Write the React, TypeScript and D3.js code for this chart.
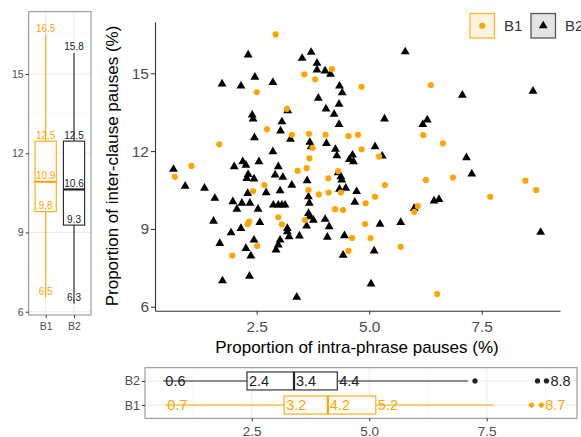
import * as d3 from "d3";
import { useRef, useEffect } from "react";

const groups = ["B1", "B2"];
const groupColors = ["#FFA500", "#000000"];

// scatter: proportion of intra-phrase pauses (x) vs inter-clause pauses (y)
const b1Intra = [2.92, 4.17, 3.56, 3.80, 2.50, 4.83, 6.37, 3.17, 2.73, 3.28, 3.66, 4.03, 4.54, 4.75, 6.20, 1.67, 3.74, 4.83, 6.64, 5.22,
  3.67, 1.05, 3.41, 3.61, 4.31, 0.68, 4.37, 4.92, 5.13, 5.35, 6.26, 6.86, 8.47, 8.71, 7.69, 6.08, 6.00, 4.24, 4.42, 4.91,
  4.62, 5.03, 5.70, 4.54, 6.51, 1.96, 2.30, 2.33, 2.51, 2.42, 2.67, 2.98, 3.06, 3.65, 3.88, 4.09, 4.10, 3.57];
const b1Inter = [16.50, 15.16, 14.96, 14.77, 14.27, 14.48, 14.55, 13.63, 12.84, 12.63, 12.67, 12.63, 12.58, 12.63, 12.62, 12.26, 12.13, 12.07, 12.30, 11.79,
  11.72, 11.43, 11.24, 11.34, 11.23, 11.01, 10.40, 9.99, 10.24, 10.69, 10.89, 10.98, 10.86, 10.50, 10.24, 9.88, 9.66, 9.76, 9.73, 9.19,
  8.65, 8.65, 8.31, 8.15, 6.49, 7.97, 9.18, 9.28, 8.34, 10.46, 10.69, 9.45, 9.18, 10.50, 10.33, 10.95, 10.40, 9.34];

const b2Intra = [2.31, 3.51, 3.71, 3.84, 3.84, 4.02, 4.14, 1.73, 2.15, 2.46, 2.86, 4.34, 4.40, 3.87, 4.33, 4.04, 3.19, 2.40, 2.42, 4.22,
  3.06, 4.33, 3.03, 2.45, 3.25, 3.68, 3.71, 4.05, 2.86, 4.25, 4.28, 0.65, 2.00, 2.19, 2.26, 2.55, 2.98, 4.56, 5.80, 7.07,
  8.64, 5.34, 6.29, 6.19, 5.13, 5.29, 4.63, 4.65, 7.16, 4.37, 4.39, 4.34, 4.48, 4.72, 4.68, 7.28, 6.44, 6.55, 6.00, 5.24,
  5.70, 8.81, 4.45, 5.11, 4.42, 5.04, 0.91, 1.34, 1.57, 1.54, 1.68, 1.74, 1.93, 1.97, 2.06, 2.17, 2.35, 2.30, 2.15, 2.26,
  2.37, 2.34, 2.44, 2.57, 2.53, 2.31, 2.28, 2.44, 2.71, 2.91, 3.08, 2.87, 2.98, 3.06, 3.13, 3.02, 3.18, 3.22, 3.02, 2.98,
  2.93, 3.28, 3.62, 3.65, 3.67, 4.31, 3.65, 3.68, 3.76, 3.61, 4.02, 4.11, 4.07, 3.45, 3.39, 3.18];
const b2Inter = [15.71, 15.58, 15.81, 15.39, 15.13, 15.09, 14.97, 14.59, 14.51, 14.85, 14.65, 14.51, 14.25, 14.04, 13.81, 13.63, 13.56, 13.39, 13.24, 13.42,
  13.13, 13.03, 12.78, 12.52, 12.46, 12.34, 12.17, 12.30, 11.98, 12.07, 11.82, 11.30, 11.40, 11.59, 11.46, 11.59, 11.40, 11.68, 15.83, 14.16,
  14.31, 13.24, 13.20, 13.03, 12.17, 11.81, 11.85, 11.59, 11.75, 11.01, 10.89, 10.53, 10.57, 10.44, 10.03, 11.12, 10.08, 10.14, 9.79, 9.18,
  9.25, 8.87, 8.74, 8.15, 7.99, 6.88, 10.65, 10.57, 10.18, 9.30, 8.44, 7.00, 8.85, 10.05, 9.76, 9.99, 9.99, 10.37, 9.02, 8.25,
  7.96, 7.18, 8.57, 9.25, 9.76, 11.10, 10.95, 10.93, 10.40, 11.08, 10.99, 9.92, 9.92, 9.92, 9.92, 10.47, 9.02, 8.70, 8.57, 8.38,
  8.19, 10.69, 10.86, 10.24, 9.99, 11.17, 9.60, 9.47, 9.34, 9.11, 9.37, 9.09, 8.68, 8.73, 6.37, 8.89];

// left boxplot (inter-clause): min, q1, median, q3, max
const b1InterBox = [6.55, 9.79, 10.92, 12.46, 16.5];
const b2InterBox = [6.3, 9.28, 10.63, 12.46, 15.8];
const b1InterLabels = ["6.5", "9.8", "10.9", "12.5", "16.5"];
const b2InterLabels = ["6.3", "9.3", "10.6", "12.5", "15.8"];

// bottom boxplot (intra-phrase): min, q1, median, q3, upper whisker
const b1IntraBox = [0.66, 3.19, 4.12, 5.14, 7.64];
const b2IntraBox = [0.62, 2.4, 3.4, 4.32, 7.1];
const b1IntraOutliers = [8.45, 8.66];
const b2IntraOutliers = [7.25, 8.58, 8.77];
const b1IntraLabels = ["0.7", "3.2", "4.2", "5.2", "8.7"];
const b2IntraLabels = ["0.6", "2.4", "3.4", "4.4", "8.8"];

const mainXTicks = [2.5, 5.0, 7.5];
const mainYTicks = [6, 9, 12, 15];

const font = "'Liberation Sans', Arial, sans-serif";

export default function App() {
    const ref = useRef<SVGSVGElement>(null);

    const width = 581;
    const height = 437;

    useEffect(() => {
        const svg = d3.select(ref.current);
        svg.selectAll("*").remove();
        svg.attr("font-family", font);

        const tickGray = "#4d4d4d";
        const gridMajor = "#ebebeb";
        const gridMinor = "#f4f4f4";
        const border = "#8a8a8a";

        // ---------- main scatter panel ----------
        const x = d3.scaleLinear().domain([0.24, 9.24]).range([155, 560]);
        const y = d3.scaleLinear().domain([5.846, 16.99]).range([310.7, 21.7]);

        const main = svg.append("g");

        const pts = main.append("g");
        const b2 = b2Intra.map((v, i) => ({ x: v, y: b2Inter[i] }));
        const b1 = b1Intra.map((v, i) => ({ x: v, y: b1Inter[i] }));

        pts.append("g")
            .selectAll("path")
            .data(b2)
            .join("path")
                .attr("d", d3.symbol(d3.symbolTriangle, 34)())
                .attr("transform", d => `translate(${x(d.x)},${y(d.y)})`)
                .attr("fill", groupColors[1]);

        pts.append("g")
            .selectAll("circle")
            .data(b1)
            .join("circle")
                .attr("cx", d => x(d.x))
                .attr("cy", d => y(d.y))
                .attr("r", 3.1)
                .attr("fill", groupColors[0]);

        // axes
        const xAxis = main.append("g")
            .attr("transform", "translate(0,310.7)")
            .call(d3.axisBottom(x).tickValues(mainXTicks).tickFormat(d3.format(".1f")).tickSize(4).tickSizeOuter(0));
        xAxis.select(".domain").attr("stroke", "#333").attr("stroke-width", 1.1);
        xAxis.selectAll(".tick line").attr("stroke", "#333");
        xAxis.selectAll(".tick text").attr("fill", tickGray).attr("font-size", 15.5).attr("dy", "0.95em");

        const yAxis = main.append("g")
            .attr("transform", "translate(155,0)")
            .call(d3.axisLeft(y).tickValues(mainYTicks).tickSize(4).tickSizeOuter(0));
        yAxis.select(".domain").attr("stroke", "#333").attr("stroke-width", 1.1);
        yAxis.selectAll(".tick line").attr("stroke", "#333");
        yAxis.selectAll(".tick text").attr("fill", tickGray).attr("font-size", 15.5).attr("x", -6);

        main.append("text")
            .attr("x", 357)
            .attr("y", 353)
            .attr("text-anchor", "middle")
            .attr("font-size", 17)
            .attr("fill", "#000")
            .text("Proportion of intra-phrase pauses (%)");

        main.append("text")
            .attr("transform", "translate(118,166) rotate(-90)")
            .attr("text-anchor", "middle")
            .attr("font-size", 17)
            .attr("fill", "#000")
            .text("Proportion of inter-clause pauses (%)");

        // legend
        const legend = main.append("g");
        const keyX = [470, 531];
        const keyFill = ["#fff4e0", "#e4e4e4"];
        const keyStroke = ["#FFB733", "#555555"];
        groups.forEach((g, i) => {
            const k = legend.append("g").attr("transform", `translate(${keyX[i]},13.5)`);
            k.append("rect")
                .attr("width", 24.5).attr("height", 24.5)
                .attr("fill", keyFill[i]).attr("stroke", keyStroke[i]).attr("stroke-width", 1.3);
            if (i === 0) {
                k.append("circle").attr("cx", 12.25).attr("cy", 12.25).attr("r", 3.1).attr("fill", groupColors[0]);
            } else {
                k.append("path")
                    .attr("d", d3.symbol(d3.symbolTriangle, 34)())
                    .attr("transform", "translate(12.25,12.25)")
                    .attr("fill", groupColors[1]);
            }
            legend.append("text")
                .attr("x", keyX[i] + 34)
                .attr("y", 31)
                .attr("font-size", 15)
                .attr("fill", "#333")
                .text(g);
        });

        // ---------- left boxplot panel (inter-clause) ----------
        const ly = d3.scaleLinear().domain([5.876, 17.36]).range([315, 11.7]);
        const lx = d3.scalePoint().domain(groups).range([28.7, 91]).padding(0.6);
        const left = svg.append("g");

        [7.5, 10.5, 13.5, 16.5].forEach(v => {
            left.append("line").attr("x1", 28.7).attr("x2", 91).attr("y1", ly(v)).attr("y2", ly(v))
                .attr("stroke", gridMinor).attr("stroke-width", 0.6);
        });
        mainYTicks.forEach(v => {
            left.append("line").attr("x1", 28.7).attr("x2", 91).attr("y1", ly(v)).attr("y2", ly(v))
                .attr("stroke", gridMajor).attr("stroke-width", 1);
        });
        groups.forEach(g => {
            left.append("line").attr("x1", lx(g)).attr("x2", lx(g)).attr("y1", 11.7).attr("y2", 315)
                .attr("stroke", gridMajor).attr("stroke-width", 1);
        });

        const boxW = 21.2;
        const leftBoxes = [b1InterBox, b2InterBox];
        const leftLabels = [b1InterLabels, b2InterLabels];
        groups.forEach((g, i) => {
            const s = leftBoxes[i];
            const cx = lx(g) as number;
            const c = groupColors[i] === "#000000" ? "#222" : groupColors[i];
            left.append("line").attr("x1", cx).attr("x2", cx).attr("y1", ly(s[0])).attr("y2", ly(s[1]))
                .attr("stroke", c).attr("stroke-width", 1.1);
            left.append("line").attr("x1", cx).attr("x2", cx).attr("y1", ly(s[3])).attr("y2", ly(s[4]))
                .attr("stroke", c).attr("stroke-width", 1.1);
            left.append("rect").attr("x", cx - boxW / 2).attr("width", boxW)
                .attr("y", ly(s[3])).attr("height", ly(s[1]) - ly(s[3]))
                .attr("fill", "#fff").attr("stroke", c).attr("stroke-width", 1.1);
            left.append("line").attr("x1", cx - boxW / 2).attr("x2", cx + boxW / 2).attr("y1", ly(s[2])).attr("y2", ly(s[2]))
                .attr("stroke", c).attr("stroke-width", 2.2);
            s.forEach((v, j) => {
                left.append("text")
                    .attr("x", cx).attr("y", ly(v) - 2.5)
                    .attr("text-anchor", "middle")
                    .attr("font-size", 10)
                    .attr("fill", c)
                    .text(leftLabels[i][j]);
            });
        });

        left.append("rect").attr("x", 28.7).attr("y", 11.7).attr("width", 62.3).attr("height", 303.3)
            .attr("fill", "none").attr("stroke", border).attr("stroke-width", 1);

        const lyAxis = left.append("g")
            .attr("transform", "translate(28.7,0)")
            .call(d3.axisLeft(ly).tickValues(mainYTicks).tickSize(3).tickSizeOuter(0));
        lyAxis.select(".domain").remove();
        lyAxis.selectAll(".tick line").attr("stroke", "#333");
        lyAxis.selectAll(".tick text").attr("fill", tickGray).attr("font-size", 10.5).attr("x", -5);

        const lxAxis = left.append("g")
            .attr("transform", "translate(0,315)")
            .call(d3.axisBottom(lx).tickSize(3).tickSizeOuter(0));
        lxAxis.select(".domain").remove();
        lxAxis.selectAll(".tick line").attr("stroke", "#333");
        lxAxis.selectAll(".tick text").attr("fill", tickGray).attr("font-size", 10.5).attr("dy", "0.85em");

        // ---------- bottom boxplot panel (intra-phrase) ----------
        const bx = d3.scaleLinear().domain([0.23, 9.42]).range([145, 577]);
        const by = d3.scalePoint().domain(["B2", "B1"]).range([367.7, 418.3]).padding(0.55);
        const bottom = svg.append("g");

        [1.25, 3.75, 6.25, 8.75].forEach(v => {
            bottom.append("line").attr("x1", bx(v)).attr("x2", bx(v)).attr("y1", 367.7).attr("y2", 418.3)
                .attr("stroke", gridMinor).attr("stroke-width", 0.6);
        });
        mainXTicks.forEach(v => {
            bottom.append("line").attr("x1", bx(v)).attr("x2", bx(v)).attr("y1", 367.7).attr("y2", 418.3)
                .attr("stroke", gridMajor).attr("stroke-width", 1);
        });
        groups.forEach(g => {
            bottom.append("line").attr("x1", 145).attr("x2", 577).attr("y1", by(g)).attr("y2", by(g))
                .attr("stroke", gridMajor).attr("stroke-width", 1);
        });

        const boxH = 18;
        const bottomBoxes = [b1IntraBox, b2IntraBox];
        const bottomOut = [b1IntraOutliers, b2IntraOutliers];
        const bottomLabels = [b1IntraLabels, b2IntraLabels];
        groups.forEach((g, i) => {
            const s = bottomBoxes[i];
            const cy = by(g) as number;
            const c = groupColors[i] === "#000000" ? "#222" : groupColors[i];
            bottom.append("line").attr("x1", bx(s[0])).attr("x2", bx(s[1])).attr("y1", cy).attr("y2", cy)
                .attr("stroke", c).attr("stroke-width", 1.1);
            bottom.append("line").attr("x1", bx(s[3])).attr("x2", bx(s[4])).attr("y1", cy).attr("y2", cy)
                .attr("stroke", c).attr("stroke-width", 1.1);
            bottom.append("rect").attr("x", bx(s[1])).attr("width", bx(s[3]) - bx(s[1]))
                .attr("y", cy - boxH / 2).attr("height", boxH)
                .attr("fill", "#fff").attr("stroke", c).attr("stroke-width", 1.1);
            bottom.append("line").attr("x1", bx(s[2])).attr("x2", bx(s[2])).attr("y1", cy - boxH / 2).attr("y2", cy + boxH / 2)
                .attr("stroke", c).attr("stroke-width", 2.2);
            bottom.append("g").selectAll("circle")
                .data(bottomOut[i])
                .join("circle")
                    .attr("cx", d => bx(d)).attr("cy", cy).attr("r", 2.6).attr("fill", c);
            const out = bottomOut[i];
            const labelPos = [s[0], s[1], s[2], s[3], out[out.length - 1]];
            labelPos.forEach((v, j) => {
                bottom.append("text")
                    .attr("x", bx(v) + (j === 4 ? 4 : 2))
                    .attr("y", cy)
                    .attr("dy", "0.36em")
                    .attr("font-size", 14.5)
                    .attr("fill", c)
                    .text(bottomLabels[i][j]);
            });
        });

        bottom.append("rect").attr("x", 145).attr("y", 367.7).attr("width", 432).attr("height", 50.6)
            .attr("fill", "none").attr("stroke", border).attr("stroke-width", 1);

        const byAxis = bottom.append("g")
            .attr("transform", "translate(145,0)")
            .call(d3.axisLeft(by).tickSize(3).tickSizeOuter(0));
        byAxis.select(".domain").remove();
        byAxis.selectAll(".tick line").attr("stroke", "#333");
        byAxis.selectAll(".tick text").attr("fill", tickGray).attr("font-size", 12.5).attr("x", -5);

        const bxAxis = bottom.append("g")
            .attr("transform", "translate(0,418.3)")
            .call(d3.axisBottom(bx).tickValues(mainXTicks).tickFormat(d3.format(".1f")).tickSize(3).tickSizeOuter(0));
        bxAxis.select(".domain").remove();
        bxAxis.selectAll(".tick line").attr("stroke", "#333");
        bxAxis.selectAll(".tick text").attr("fill", tickGray).attr("font-size", 13.5).attr("dy", "0.9em");
    }, []);

    return (
        <svg ref={ref} width={width} height={height}
            style={{ position: "absolute", left: 0, top: 0, background: "#fff" }}></svg>
    );
}
